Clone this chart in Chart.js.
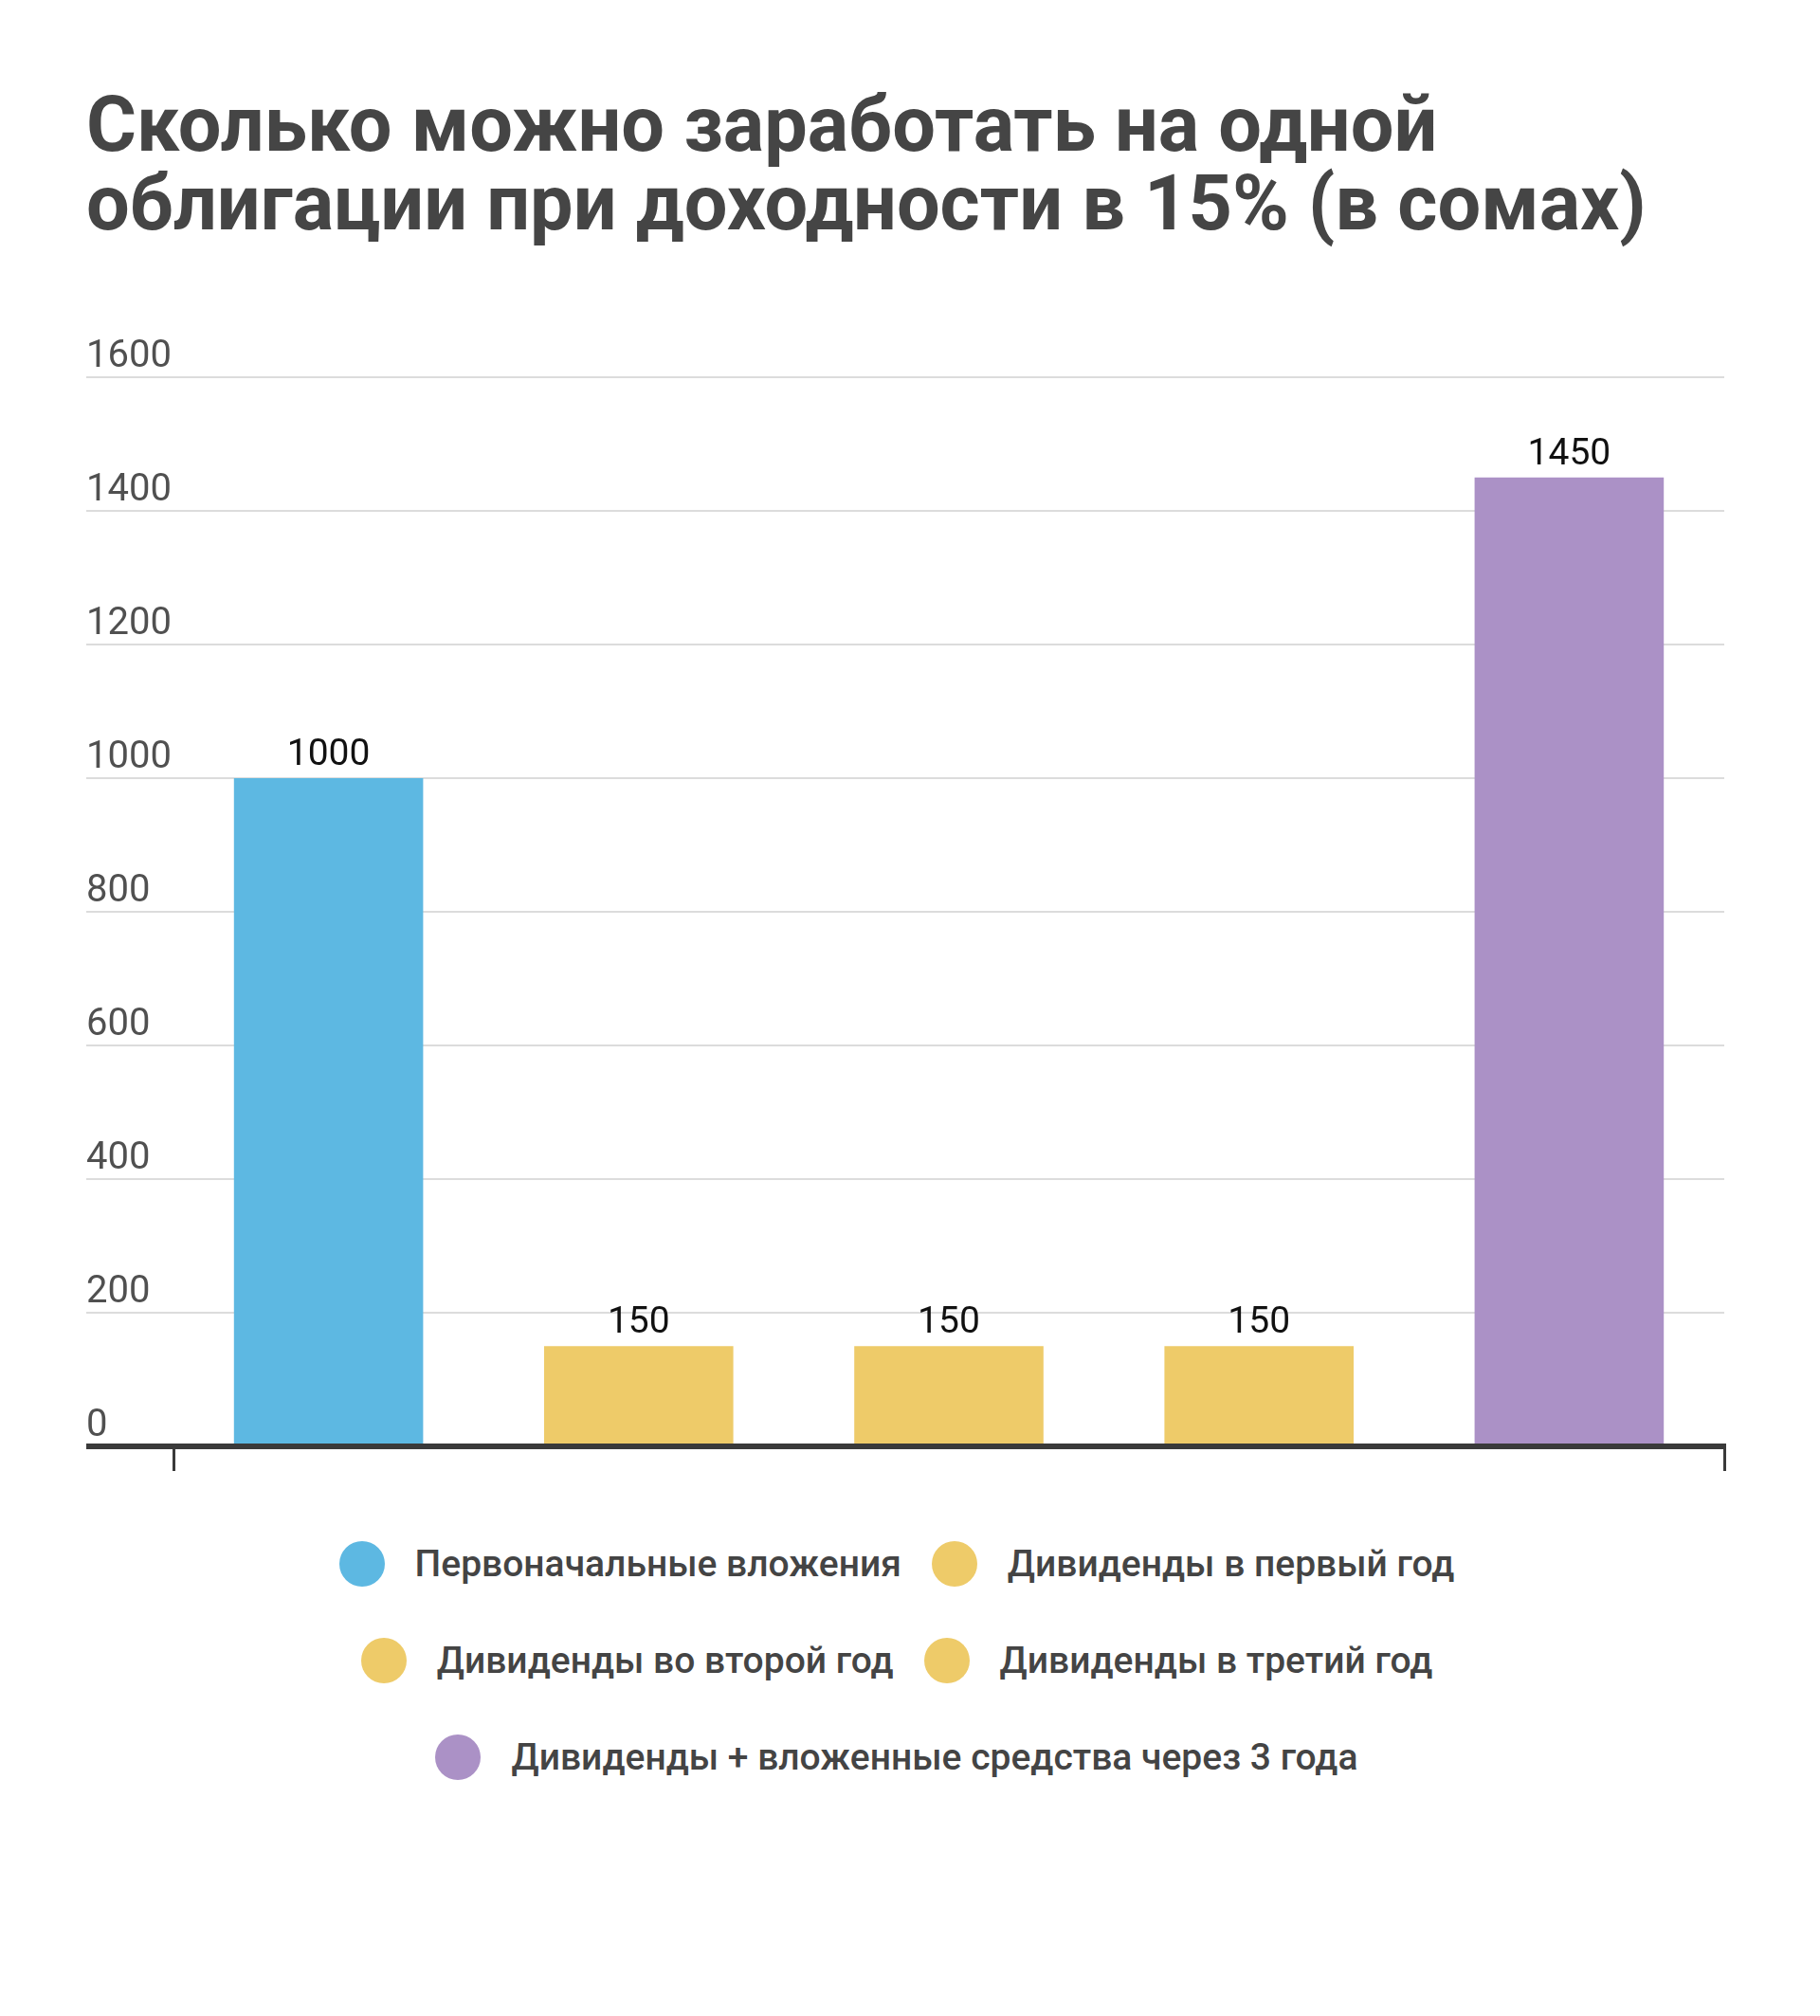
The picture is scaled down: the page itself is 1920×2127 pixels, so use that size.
<!DOCTYPE html>
<html lang="ru">
<head>
<meta charset="utf-8">
<title>Облигации</title>
<script src="https://cdn.jsdelivr.net/npm/chart.js@4.4.1/dist/chart.umd.min.js"></script>
<style>
  body { margin: 0; background: #ffffff; font-family: Roboto, sans-serif; }
  #wrap { position: relative; width: 1920px; height: 2127px; }
  #chart { position: absolute; left: 0; top: 0; }
  #legend {
    position: absolute; left: 321px; top: 1626px; width: 1250px;
    display: flex; flex-wrap: wrap; justify-content: center;
    column-gap: 32px; row-gap: 54px;
  }
  .item { display: flex; align-items: center; height: 48px; }
  .dot { width: 48px; height: 48px; border-radius: 50%; margin-right: 32px; }
  .txt { font: 500 39px Roboto, sans-serif; color: #444444; line-height: 48px; white-space: nowrap; }
</style>
</head>
<body>
<div id="wrap">
  <canvas id="chart" width="1920" height="1580"></canvas>
  <div id="legend"></div>
</div>
<script>
// data
const titleLines = ["Сколько можно заработать на одной", "облигации при доходности в 15% (в сомах)"];
const categories = [
  "Первоначальные вложения",
  "Дивиденды в первый год",
  "Дивиденды во второй год",
  "Дивиденды в третий год",
  "Дивиденды + вложенные средства через 3 года",
];
const values = [1000, 150, 150, 150, 1450];
const barColors = ["#5DB8E2", "#EECB69", "#EECB69", "#EECB69", "#AB91C6"];
const yMin = 0;
const yMax = 1600;
const yStep = 200;

// value labels over bars
const barValues = {
  id: "barValues",
  afterDatasetsDraw(chart) {
    const ctx = chart.ctx;
    const meta = chart.getDatasetMeta(0);
    ctx.save();
    ctx.font = "400 39px Roboto, sans-serif";
    ctx.fillStyle = "#111111";
    ctx.textAlign = "center";
    ctx.textBaseline = "middle";
    meta.data.forEach((bar, i) => {
      ctx.fillText(String(values[i]), bar.x, bar.y - 24);
    });
    ctx.restore();
  },
};

const config = {
  type: "bar",
  data: {
    labels: categories,
    datasets: [
      {
        data: values,
        backgroundColor: barColors,
        borderWidth: 0,
        categoryPercentage: 1,
        barPercentage: 0.61,
      },
    ],
  },
  options: {
    responsive: false,
    animation: false,
    devicePixelRatio: 1,
    layout: { padding: { left: 91, right: 101, top: 0, bottom: 28 } },
    plugins: {
      legend: { display: false },
      tooltip: { enabled: false },
      title: {
        display: true,
        text: titleLines,
        align: "start",
        color: "#454545",
        font: { family: "Roboto", size: 81, weight: "bold", lineHeight: 1.025 },
        padding: { top: 97, bottom: 135 },
      },
    },
    scales: {
      x: {
        ticks: { display: false },
        grid: {
          drawOnChartArea: false,
          drawTicks: true,
          tickLength: 26,
          lineWidth: 3,
          color: (c) => (c.type === "scale" || c.index === 0 ? "#3a3a3a" : "rgba(0,0,0,0)"),
        },
        border: { display: true, color: "#3a3a3a", width: 6, z: 1 },
      },
      y: {
        min: yMin,
        max: yMax,
        ticks: {
          stepSize: yStep,
          callback: (v) => String(v),
          crossAlign: "far",
          labelOffset: -21,
          padding: 0,
          color: "#505050",
          font: { family: "Roboto", size: 40 },
        },
        grid: {
          tickLength: 92,
          color: (c) => (c.tick && c.tick.value === 0 ? "#3a3a3a" : "#dcdcdc"),
          lineWidth: (c) => (c.tick && c.tick.value === 0 ? 6 : 2),
        },
        border: { display: false },
        afterFit: (scale) => {
          scale.width = 92;
        },
      },
    },
  },
  plugins: [barValues],
};

const myChart = new Chart(document.getElementById("chart"), config);

// legend built from the same arrays
const legend = document.getElementById("legend");
categories.forEach((name, i) => {
  const item = document.createElement("div");
  item.className = "item";
  item.innerHTML = `<span class="dot" style="background:${barColors[i]}"></span><span class="txt">${name}</span>`;
  legend.appendChild(item);
});
</script>
</body>
</html>
